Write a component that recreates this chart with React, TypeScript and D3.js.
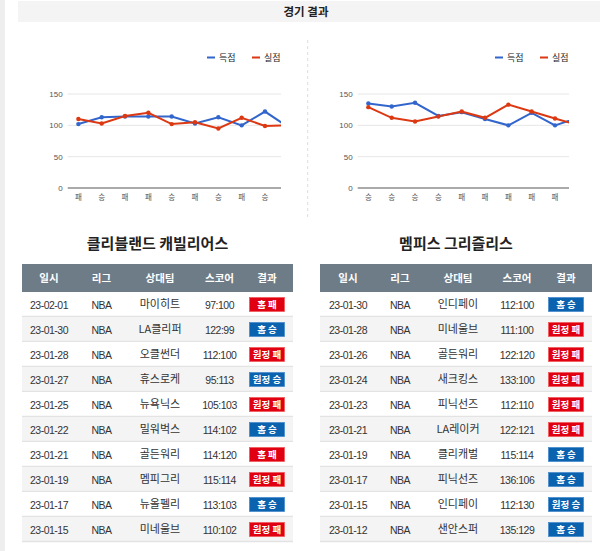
import React from "react";
import { scaleBand, scaleLinear, line } from "d3";

// 경기 결과 (최근 10경기, 오래된 순)
const cleResults = ["패", "승", "패", "패", "승", "패", "승", "패", "승", "패"];
const cleScored = [102, 113, 114, 114, 114, 103, 113, 100, 122, 97];
const cleAllowed = [110, 103, 115, 120, 102, 105, 95, 112, 99, 100];

const memResults = ["승", "승", "승", "승", "패", "패", "패", "패", "패", "승"];
const memScored = [135, 130, 136, 115, 121, 110, 100, 120, 100, 112];
const memAllowed = [129, 112, 106, 114, 122, 112, 133, 122, 111, 100];

const yTicks = [0, 50, 100, 150];

// 테이블
const headers = ["일시", "리그", "상대팀", "스코어", "결과"];

const cleDates = ["23-02-01", "23-01-30", "23-01-28", "23-01-27", "23-01-25", "23-01-22", "23-01-21", "23-01-19", "23-01-17", "23-01-15"];
const cleOpp = ["마이히트", "LA클리퍼", "오클썬더", "휴스로케", "뉴욕닉스", "밀워벅스", "골든워리", "멤피그리", "뉴올펠리", "미네울브"];
const cleScores = ["97:100", "122:99", "112:100", "95:113", "105:103", "114:102", "114:120", "115:114", "113:103", "110:102"];
const cleBadges = ["홈 패", "홈 승", "원정 패", "원정 승", "원정 패", "홈 승", "홈 패", "원정 패", "홈 승", "원정 패"];

const memDates = ["23-01-30", "23-01-28", "23-01-26", "23-01-24", "23-01-23", "23-01-21", "23-01-19", "23-01-17", "23-01-15", "23-01-12"];
const memOpp = ["인디페이", "미네울브", "골든워리", "새크킹스", "피닉선즈", "LA레이커", "클리캐벌", "피닉선즈", "인디페이", "샌안스퍼"];
const memScores = ["112:100", "111:100", "122:120", "133:100", "112:110", "122:121", "115:114", "136:106", "112:130", "135:129"];
const memBadges = ["홈 승", "원정 패", "원정 패", "원정 패", "원정 패", "원정 패", "홈 승", "홈 승", "원정 승", "홈 승"];

const BLUE = "#3366cc";
const RED = "#dc3912";
const FONT = "'Liberation Sans', Arial, 'Noto Sans CJK KR', sans-serif";
const KFONT = "'Noto Sans CJK KR', sans-serif";

interface ChartProps {
  id: string;
  left: number;
  clipRight: number;
  results: string[];
  scored: number[];
  allowed: number[];
  legendX: number;
}

const MiniChart: React.FC<ChartProps> = ({ id, left, clipRight, results, scored, allowed, legendX }) => {
  const x = scaleBand<number>()
    .domain(results.map((_, i) => i))
    .range([left, left + 233.3]);
  const y = scaleLinear().domain([0, 150]).range([188, 94]);
  const cx = (i: number) => x(i)! + x.bandwidth() / 2;
  const gen = line<number>()
    .x((_, i) => cx(i))
    .y((d) => y(d));
  const gridLeft = left + 1;

  return (
    <g fontFamily={FONT}>
      <defs>
        <clipPath id={id}>
          <rect x={left - 40} y={30} width={clipRight - left + 40} height={190} />
        </clipPath>
      </defs>
      <g clipPath={`url(#${id})`}>
        {/* legend */}
        <line x1={legendX} x2={legendX + 8} y1={57.5} y2={57.5} stroke={BLUE} strokeWidth={2} />
        <text x={legendX + 12} y={60.5} fontSize={9} fill="#222" fontFamily={KFONT}>득점</text>
        <line x1={legendX + 45} x2={legendX + 53} y1={57.5} y2={57.5} stroke={RED} strokeWidth={2} />
        <text x={legendX + 57} y={60.5} fontSize={9} fill="#222" fontFamily={KFONT}>실점</text>

        {yTicks.map((t) => (
          <g key={t}>
            <line
              x1={gridLeft}
              x2={clipRight + 30}
              y1={y(t)}
              y2={y(t)}
              stroke={t === 0 ? "#555" : "#e6e6e6"}
              strokeWidth={1}
            />
            <text x={left - 4} y={y(t) + 3} fontSize={8} fill="#555" textAnchor="end">
              {t}
            </text>
          </g>
        ))}
        {results.map((r, i) => (
          <text key={i} x={cx(i)} y={199.5} fontSize={7.5} fill="#555" textAnchor="middle" fontFamily={KFONT}>
            {r}
          </text>
        ))}
        <path d={gen(scored)!} fill="none" stroke={BLUE} strokeWidth={2} />
        <path d={gen(allowed)!} fill="none" stroke={RED} strokeWidth={2} />
        {scored.map((v, i) => (
          <circle key={"s" + i} cx={cx(i)} cy={y(v)} r={2.2} fill={BLUE} />
        ))}
        {allowed.map((v, i) => (
          <circle key={"a" + i} cx={cx(i)} cy={y(v)} r={2.2} fill={RED} />
        ))}
      </g>
    </g>
  );
};

interface TableProps {
  title: string;
  left: number;
  right: number;
  colX: number[];
  dates: string[];
  opps: string[];
  scores: string[];
  badges: string[];
}

const ResultTable: React.FC<TableProps> = ({ title, left, right, colX, dates, opps, scores, badges }) => {
  const top = 264;
  const headH = 28;
  const rowH = 25;
  const width = right - left;
  return (
    <g fontFamily={FONT}>
      <text x={(left + right) / 2} y={249} textAnchor="middle" fontSize={15} fontWeight="bold" fill="#222" fontFamily={KFONT}>
        {title}
      </text>
      <rect x={left} y={top} width={width} height={headH} fill="#6e7c88" />
      {headers.map((h, i) => (
        <text key={h} x={colX[i]} y={top + 18} textAnchor="middle" fontSize={10.5} fontWeight="bold" fill="#fff" fontFamily={KFONT}>
          {h}
        </text>
      ))}
      {dates.map((d, r) => {
        const ry = top + headH + r * rowH;
        const cy = ry + rowH / 2;
        const badge = badges[r];
        const win = badge.endsWith("승");
        return (
          <g key={r}>
            <rect x={left} y={ry} width={width} height={rowH} fill={r % 2 === 1 ? "#f4f4f4" : "#fff"} />
            <line x1={left} x2={right} y1={ry + rowH - 0.5} y2={ry + rowH - 0.5} stroke="#e3e3e3" strokeWidth={1.5} />
            <text x={colX[0]} y={cy + 4} textAnchor="middle" fontSize={10.5} fill="#333" letterSpacing={-0.5}>
              {d}
            </text>
            <text x={colX[1]} y={cy + 4} textAnchor="middle" fontSize={10.5} fill="#333" letterSpacing={-0.5}>
              NBA
            </text>
            <text x={colX[2]} y={cy + 3} textAnchor="middle" fontSize={11} fill="#333" fontFamily={KFONT}>
              {opps[r]}
            </text>
            <text x={colX[3]} y={cy + 4} textAnchor="middle" fontSize={10.5} fill="#333" letterSpacing={-0.5}>
              {scores[r]}
            </text>
            <rect
              x={colX[4] - 17.5}
              y={cy - 7}
              width={35}
              height={14}
              fill={win ? "#0b63b0" : "#e00012"}
              stroke={win ? "#4a8ccc" : "#f05a5a"}
              strokeWidth={0.8}
            />
            <text x={colX[4]} y={cy + 3.5} textAnchor="middle" fontSize={9.5} fontWeight="bold" fill="#fff" fontFamily={KFONT}>
              {badge}
            </text>
          </g>
        );
      })}
    </g>
  );
};

const App: React.FC = () => {
  return (
    <svg
      width={600}
      height={551}
      viewBox="0 0 600 551"
      style={{ position: "absolute", left: 0, top: 0, background: "#fff" }}
    >
      <rect x={0} y={0} width={5} height={551} fill="#eeeeee" />
      <rect x={18} y={1} width={582} height={21} fill="#f4f4f4" />
      <text x={306} y={15.5} textAnchor="middle" fontSize={11.5} fontWeight="bold" fill="#222" fontFamily={KFONT}>
        경기 결과
      </text>

      <line x1={307.7} x2={307.7} y1={40} y2={220} stroke="#dddddd" strokeWidth={1} strokeDasharray="3,3" />

      <MiniChart id="clip-cle" left={66.7} clipRight={281} results={cleResults} scored={cleScored} allowed={cleAllowed} legendX={207} />
      <MiniChart id="clip-mem" left={356.7} clipRight={569} results={memResults} scored={memScored} allowed={memAllowed} legendX={495} />

      <ResultTable
        title="클리블랜드 캐빌리어스"
        left={22}
        right={293}
        colX={[49, 101.5, 160, 219.5, 267]}
        dates={cleDates}
        opps={cleOpp}
        scores={cleScores}
        badges={cleBadges}
      />
      <ResultTable
        title="멤피스 그리즐리스"
        left={320}
        right={592}
        colX={[348, 400, 458, 517, 566]}
        dates={memDates}
        opps={memOpp}
        scores={memScores}
        badges={memBadges}
      />
    </svg>
  );
};

export default App;
